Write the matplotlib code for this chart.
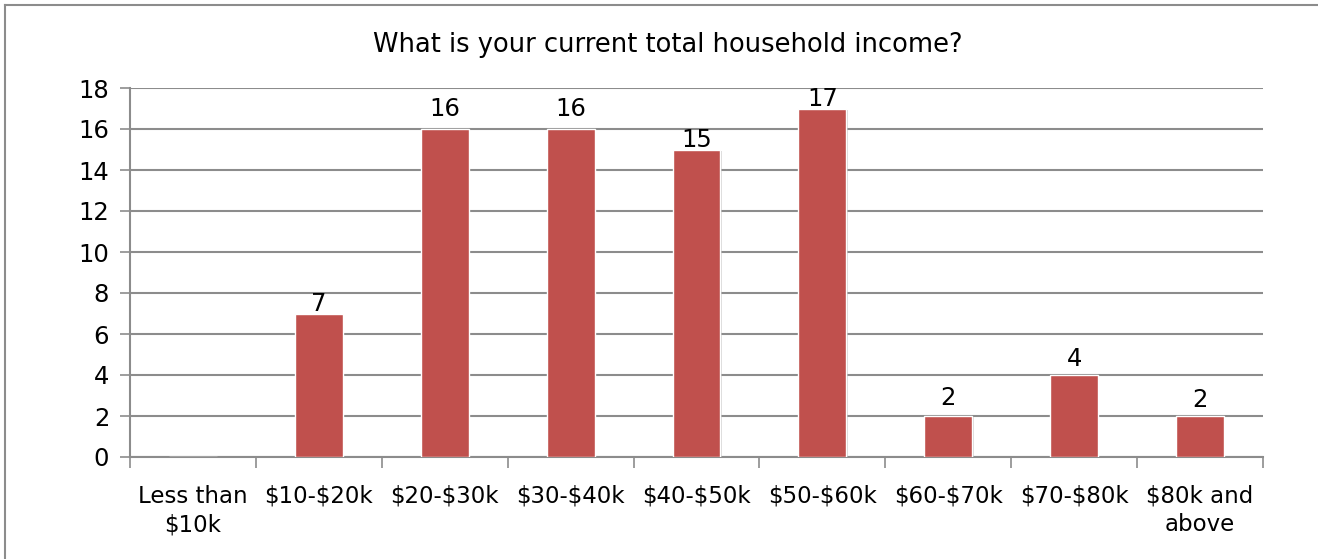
import matplotlib
matplotlib.use("Agg")
import matplotlib.pyplot as plt
import matplotlib.patheffects as pe

categories = ["Less than\n$10k", "$10-$20k", "$20-$30k", "$30-$40k", "$40-$50k",
              "$50-$60k", "$60-$70k", "$70-$80k", "$80k and\nabove"]
values = [0, 7, 16, 16, 15, 17, 2, 4, 2]
title = "What is your current total household income?"

# label vertical offsets in points (styling only)
label_offsets = [0, -2, 6, 6, -2, -2, 4, 3, 3]

plt.rcParams['font.family'] = ['DejaVu Sans']
plt.rcParams['text.parse_math'] = False
W, H = 1318, 559
fig = plt.figure(figsize=(W / 100, H / 100), dpi=100)

# outer chart border
fig.add_artist(plt.Line2D([5 / W, 5 / W], [0, 1 - 5 / H], transform=fig.transFigure,
                          color="#8c8c8c", lw=1.5))
fig.add_artist(plt.Line2D([5 / W, 1], [1 - 5 / H, 1 - 5 / H], transform=fig.transFigure,
                          color="#8c8c8c", lw=1.5))

left, right, top, bottom = 130, 1263, 88, 457
ax = fig.add_axes([left / W, 1 - bottom / H, (right - left) / W, (bottom - top) / H])

x = list(range(len(categories)))
bars = ax.bar(x, values, width=0.38, color="#C0504D", edgecolor="white", linewidth=1.0,
              zorder=3)
for b in bars:
    b.set_path_effects([pe.SimplePatchShadow(offset=(1, -1), shadow_rgbFace="#b0b0b0", alpha=0.5),
                        pe.Normal()])

for xi, v, off in zip(x, values, label_offsets):
    if v > 0:
        ax.annotate(str(v), (xi, v), xytext=(0, off), textcoords="offset points",
                    ha="center", va="bottom", fontsize=17.5, color="black", zorder=4)

ax.set_xlim(-0.5, len(categories) - 0.5)
ax.set_ylim(0, 18)
ax.set_yticks(range(0, 19, 2))
ax.tick_params(axis="y", labelsize=17.5, length=7, width=1.2, color="#8c8c8c", pad=8)
ax.yaxis.grid(True, color="#8c8c8c", linewidth=1.5, zorder=0)
ax.set_axisbelow(True)

ax.set_xticks([i - 0.5 for i in range(len(categories) + 1)])
ax.set_xticklabels([])
ax.set_xticks(x, minor=True)
ax.set_xticklabels(categories, minor=True, fontsize=16.5, linespacing=1.3)
ax.tick_params(axis="x", which="major", length=8, width=1.2, color="#8c8c8c")
ax.tick_params(axis="x", which="minor", length=0, pad=20)

for s in ["top", "right"]:
    ax.spines[s].set_visible(False)
for s in ["left", "bottom"]:
    ax.spines[s].set_color("#8c8c8c")
    ax.spines[s].set_linewidth(1.5)

fig.text(668 / W, 1 - 45 / H, title, ha="center", va="center", fontsize=18.5)

fig.savefig("out.png", dpi=100)
